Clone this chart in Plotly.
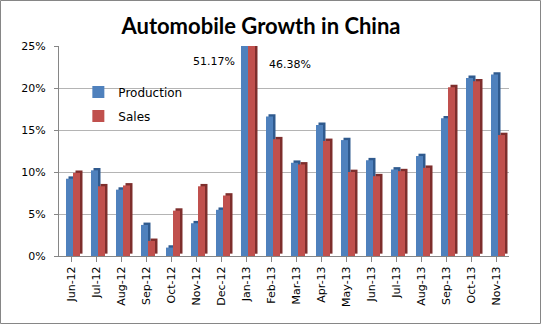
import plotly.graph_objects as go

months = ["Jun-12", "Jul-12", "Aug-12", "Sep-12", "Oct-12", "Nov-12", "Dec-12",
          "Jan-13", "Feb-13", "Mar-13", "Apr-13", "May-13", "Jun-13", "Jul-13",
          "Aug-13", "Sep-13", "Oct-13", "Nov-13"]
production = [9.2, 10.2, 7.9, 3.7, 1.0, 3.9, 5.5, 51.17, 16.6, 11.1, 15.6, 13.8,
              11.4, 10.3, 11.9, 16.4, 21.2, 21.6]
sales = [9.9, 8.3, 8.4, 1.8, 5.4, 8.3, 7.2, 46.38, 13.9, 10.9, 13.7, 10.0,
         9.5, 10.1, 10.5, 20.1, 20.8, 14.4]
y_ticks = [0, 5, 10, 15, 20, 25]
y_tick_text = ["0%", "5%", "10%", "15%", "20%", "25%"]

W, H = 541, 324
ML, MR, MT, MB = 59, 32, 46, 68
PW, PH = W - ML - MR, H - MT - MB

BLUE, BLUE_DARK = "#4F81BD", "#2F5A8E"
RED, RED_DARK = "#C0504D", "#7E2E2C"
BAR_W = 0.28
DEPTH_X, DEPTH_Y = 0.1, 0.28

fig = go.Figure()

# depth faces sit behind the front faces, shifted right and up
for vals, off, dark in [(production, -0.22, BLUE_DARK), (sales, 0.06, RED_DARK)]:
    fig.add_trace(go.Bar(
        x=months, y=vals, base=DEPTH_Y, width=BAR_W, offset=off + DEPTH_X,
        marker=dict(color=dark, line=dict(width=0)), showlegend=False,
        hoverinfo="skip"))

for vals, off, col, name in [(production, -0.22, BLUE, "Production"),
                             (sales, 0.06, RED, "Sales")]:
    fig.add_trace(go.Bar(
        x=months, y=vals, width=BAR_W, offset=off, name=name,
        marker=dict(color=col, line=dict(width=0)), legendgroup=name))

# values of the bars that run past the top of the axis
jan = months.index("Jan-13")
fig.add_annotation(x=months[jan], y=25, yref="y", text=f"{production[jan]:.2f}%",
                   showarrow=False, xshift=-33, yshift=-15,
                   font=dict(size=11, color="#000000", family="DejaVu Sans"))
fig.add_annotation(x=months[jan], y=25, yref="y", text=f"{sales[jan]:.2f}%",
                   showarrow=False, xshift=43, yshift=-18,
                   font=dict(size=11, color="#000000", family="DejaVu Sans"))

# outer chart border
fig.add_shape(type="rect", xref="paper", yref="paper",
              x0=(0.5 - ML) / PW, x1=(W - 0.5 - ML) / PW,
              y0=-(MB - 0.5) / PH, y1=1 + (MT - 0.5) / PH,
              line=dict(color="#868686", width=1), layer="below")

fig.update_layout(
    width=W, height=H,
    margin=dict(l=ML, r=MR, t=MT, b=MB, pad=0),
    paper_bgcolor="white", plot_bgcolor="white",
    barmode="overlay",
    title=dict(text="Automobile Growth in China", x=261 / W, xref="container",
               xanchor="center", y=1 - 26 / H, yanchor="middle",
               font=dict(family="Lato", size=22, color="#000000", weight="bold")),
    font=dict(family="DejaVu Sans", size=11, color="#000000"),
    legend=dict(x=0.043, y=0.85, xanchor="left", yanchor="top",
                bgcolor="rgba(0,0,0,0)", tracegroupgap=5,
                font=dict(size=12, family="DejaVu Sans"), itemwidth=30),
    xaxis=dict(tickangle=-90, showgrid=False, ticks="outside", ticklen=5,
               tickcolor="#868686", showline=True, linecolor="#868686",
               tickfont=dict(size=11, family="DejaVu Sans"),
               range=[-0.5, len(months) - 0.5]),
    yaxis=dict(range=[0, 25], tickvals=y_ticks, ticktext=y_tick_text,
               showgrid=True, gridcolor="#B4B4B4", gridwidth=1,
               showline=True, linecolor="#868686", ticks="outside",
               ticklen=4, tickcolor="#868686", zeroline=False,
               ticklabelstandoff=6,
               tickfont=dict(size=11, family="DejaVu Sans")),
)

fig.write_html("out.html")
